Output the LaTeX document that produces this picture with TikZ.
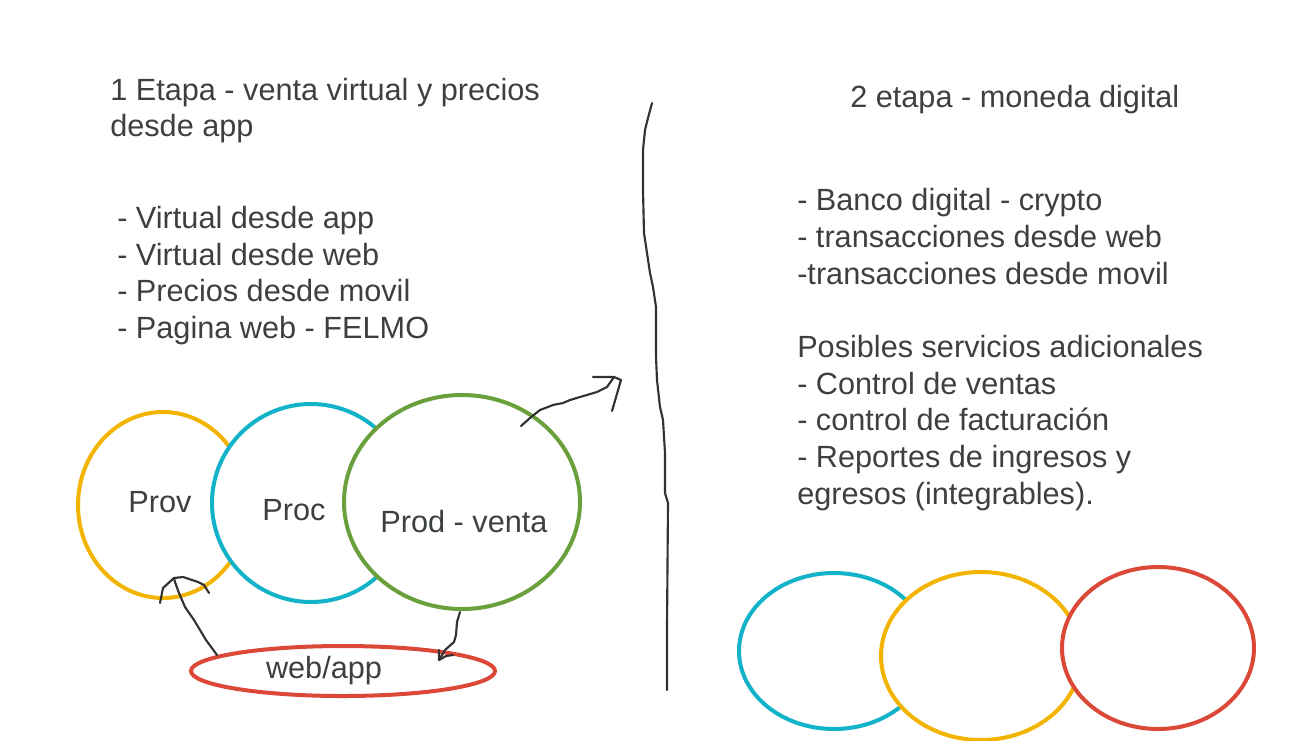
\documentclass[tikz,border=0pt]{standalone}
\usepackage{fontspec}
\setmainfont{Liberation Sans}
\usetikzlibrary{shapes.geometric}
\definecolor{txt}{RGB}{60,64,67}
\definecolor{ink}{RGB}{50,50,50}
\definecolor{cyel}{RGB}{243,180,0}
\definecolor{cblu}{RGB}{18,178,200}
\definecolor{cgrn}{RGB}{106,160,60}
\definecolor{cred}{RGB}{220,72,56}
\tikzset{
  txtline/.style={anchor=base west,inner sep=0pt,text=txt,font=\fontsize{23}{27.5}\selectfont},
  lbl/.style={anchor=base,inner sep=0pt,text=txt,font=\fontsize{23}{27.5}\selectfont},
  ring/.style={ellipse,draw,fill=white,line width=3pt,inner sep=0pt},
  pen/.style={draw=ink,line width=1.6pt,line cap=round,line join=round}
}
\begin{document}
\begin{tikzpicture}[x=0.75pt,y=-0.75pt]
\useasboundingbox (0,0) rectangle (1306,740);
% left column text
\node[txtline] (t1a) at (110,100) {1 Etapa - venta virtual y precios};
\node[txtline] (t1b) at (110,136) {desde app};
\node[txtline] (l1) at (117,228) {- Virtual desde app};
\node[txtline] (l2) at (117,265) {- Virtual desde web};
\node[txtline] (l3) at (117,301) {- Precios desde movil};
\node[txtline] (l4) at (117,338) {- Pagina web - FELMO};
% right column text
\node[txtline] (t2) at (850,107) {2 etapa - moneda digital};
\node[txtline] (r1) at (797,210) {- Banco digital - crypto};
\node[txtline] (r2) at (797,247) {- transacciones desde web};
\node[txtline] (r3) at (797,284) {-transacciones desde movil};
\node[txtline] (r4) at (797,357) {Posibles servicios adicionales};
\node[txtline] (r5) at (797,394) {- Control de ventas};
\node[txtline] (r6) at (797,430) {- control de facturación};
\node[txtline] (r7) at (797,467) {- Reportes de ingresos y};
\node[txtline] (r8) at (797,504) {egresos (integrables).};
% left rings
\node[ring,draw=cyel,minimum width=127.5pt,minimum height=139.5pt] (prov) at (163,505) {};
\node[ring,draw=cblu,minimum width=148.5pt,minimum height=148.5pt] (proc) at (311,503) {};
\node[ring,draw=cgrn,minimum width=177pt,minimum height=160.5pt] (prod) at (462,502) {};
\node[ring,draw=cred,minimum width=228pt,minimum height=37.5pt] (web) at (343,671) {};
\node[lbl] (provt) at (160,512) {Prov};
\node[lbl] (proct) at (294,520) {Proc};
\node[lbl] (prodt) at (464,532) {Prod - venta};
\node[lbl] (webt) at (324,678) {web/app};
% right rings
\node[ring,draw=cblu,minimum width=142.5pt,minimum height=117pt] (b1) at (834,651) {};
\node[ring,draw=cyel,minimum width=150pt,minimum height=126pt] (b2) at (981,656) {};
\node[ring,draw=cred,minimum width=144pt,minimum height=121.5pt] (b3) at (1158,648) {};
% divider
\coordinate (dtop) at (652,103);
\coordinate (dbot) at (667,690);
\draw[pen] (dtop) -- (648,118) -- (645,130) -- (643,150) -- (643,190) -- (644,233) -- (647,253) -- (650,273) -- (653,287) -- (656,307) -- (656,357) -- (657,380) -- (660,407) -- (663,420) -- (665,453) -- (665,493) -- (668,503) -- (667,627) -- (dbot);
% arrow from Prod up-right
\coordinate (a1s) at (521,426);
\coordinate (a1t) at (614,377);
\draw[pen] (a1s) -- (530,418) -- (540,410) -- (553,405) -- (563,403) -- (570,400) -- (580,397) -- (597,392) -- (607,387) -- (a1t);
\draw[pen] (593,377) -- (a1t) -- (621,380) -- (612,411);
% arrow from Prod down to web/app
\coordinate (a2s) at (460,612);
\coordinate (a2t) at (439,660);
\draw[pen] (a2s) -- (457,622) -- (456,635) -- (454,642) -- (445,650) -- (a2t);
\draw[pen] (439,650) -- (a2t) -- (446,656) -- (453,655);
% arrow from web/app up to Prov
\coordinate (a3s) at (217,655);
\coordinate (a3t) at (174,578);
\draw[pen] (a3s) -- (206,640) -- (194,620) -- (185,607) -- (179,593) -- (175,582) -- (a3t);
\draw[pen] (160,603) -- (163,588) -- (a3t) -- (183,577) -- (198,582) -- (204,585) -- (209,593);
\end{tikzpicture}
\end{document}
